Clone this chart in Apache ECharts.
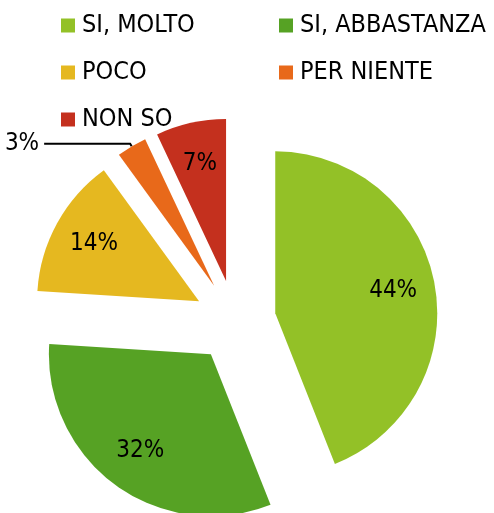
<!DOCTYPE html>
<html>
<head>
<meta charset="utf-8">
<script src="https://cdn.jsdelivr.net/npm/echarts@6/dist/echarts.min.js"></script>
<style>
  html, body { margin: 0; padding: 0; background: #fff; }
  #main { width: 494px; height: 513px; }
</style>
</head>
<body>
<div id="main"></div>
<script>
// categorie e valori (percentuali)
var categories = ['SI, MOLTO', 'SI, ABBASTANZA', 'POCO', 'PER NIENTE', 'NON SO'];
var values = [44, 32, 14, 3, 7];
var colors = ['#93C127', '#56A224', '#E5B820', '#E8691A', '#C4301E'];

var font = '"DejaVu Sans Condensed", "DejaVu Sans", sans-serif';

var chart = echarts.init(document.getElementById('main'));

// dati per la torta (tutte le fette "esplose")
var pieData = categories.map(function (name, i) {
    var item = {
        name: name,
        value: values[i],
        selected: true,
        itemStyle: { color: colors[i] }
    };
    // la fetta piccola ha l'etichetta fuori con la linea
    if (values[i] === 3) {
        item.label = { show: true };
        item.labelLine = { show: true };
    }
    return item;
});

// serie trasparente solo per le etichette interne
var labelData = categories.map(function (name, i) {
    return {
        name: name,
        value: values[i],
        selected: true,
        label: { show: values[i] !== 3 }
    };
});

var legendText = { fontFamily: font, fontSize: 25, color: '#000', padding: [0, 0, 0, 2] };

var option = {
    animation: false,
    legend: [{
        orient: 'vertical',
        left: 56,
        top: 8,
        itemWidth: 14,
        itemHeight: 14,
        itemGap: 22,
        icon: 'rect',
        data: ['SI, MOLTO', 'POCO', 'NON SO'],
        textStyle: legendText
    }, {
        orient: 'vertical',
        left: 274,
        top: 8,
        itemWidth: 14,
        itemHeight: 14,
        itemGap: 22,
        icon: 'rect',
        data: ['SI, ABBASTANZA', 'PER NIENTE'],
        textStyle: legendText
    }],
    series: [{
        name: 'risposte',
        type: 'pie',
        center: [235, 321],
        radius: 162,
        startAngle: 90,
        clockwise: true,
        selectedMode: 'multiple',
        selectedOffset: 41,
        avoidLabelOverlap: false,
        silent: true,
        label: {
            show: false,
            position: 'outside',
            formatter: '{c}%',
            fontFamily: font,
            fontSize: 24,
            color: '#000'
        },
        labelLine: {
            show: false,
            length: 3,
            length2: 86,
            lineStyle: { color: '#000', width: 2 }
        },
        data: pieData
    }, {
        name: 'etichette',
        type: 'pie',
        center: [235, 321],
        radius: 234,
        startAngle: 90,
        clockwise: true,
        selectedMode: 'multiple',
        selectedOffset: 41,
        silent: true,
        itemStyle: { color: 'rgba(0,0,0,0)' },
        label: {
            position: 'inside',
            formatter: '{c}%',
            fontFamily: font,
            fontSize: 24,
            color: '#000'
        },
        labelLine: { show: false },
        data: labelData
    }]
};

chart.setOption(option);
</script>
</body>
</html>
